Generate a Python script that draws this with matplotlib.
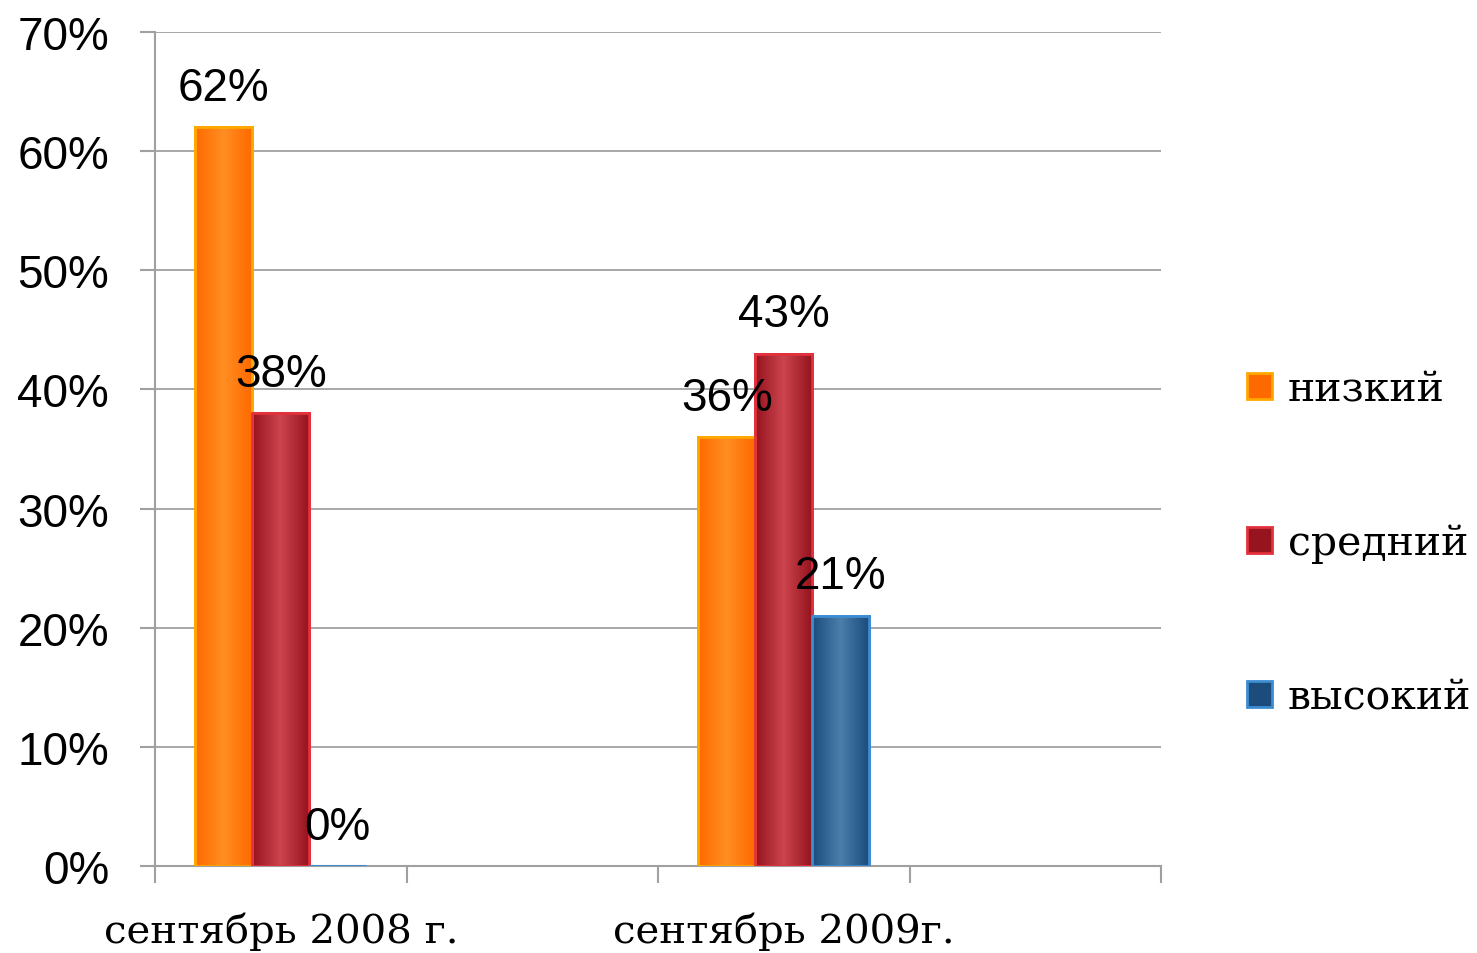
import matplotlib.pyplot as plt
import numpy as np
from matplotlib.colors import LinearSegmentedColormap

categories = ['сентябрь 2008 г.', '', 'сентябрь 2009г.', '']
series = ['низкий', 'средний', 'высокий']
low = [62, np.nan, 36, np.nan]
mid = [38, np.nan, 43, np.nan]
high = [0, np.nan, 21, np.nan]
values = [low, mid, high]

edge_cols = ['#FFA800', '#E2303C', '#3C8CD2']
dark_cols = ['#FF6A00', '#96141E', '#1B4C7C']
light_cols = ['#FF8E22', '#CC444E', '#4C7EAC']

fig = plt.figure(figsize=(14.77, 9.54), dpi=100)
ax = fig.add_axes([155/1477, 1-867/954, (1161-155)/1477, (867-33)/954])

x = np.arange(len(categories))
w = 0.226
sans = 'Liberation Sans'
serif = 'DejaVu Serif'

for i, (name, vals) in enumerate(zip(series, values)):
    bars = ax.bar(x + (i-1)*w, vals, w, color=dark_cols[i], edgecolor=edge_cols[i],
                  linewidth=2, label=name, zorder=3)
    cmap = LinearSegmentedColormap.from_list('g', [dark_cols[i], light_cols[i], dark_cols[i]])
    grad = np.linspace(0, 1, 64).reshape(1, -1)
    for b, v in zip(bars, vals):
        if np.isnan(v):
            continue
        x0, y0 = b.get_x(), b.get_y()
        im = ax.imshow(grad, cmap=cmap, aspect='auto', zorder=3.5,
                       extent=[x0, x0 + b.get_width(), y0, y0 + b.get_height()])
        im.set_clip_path(b)
        ax.bar(b.get_x() + b.get_width()/2, v, w, fill=False, edgecolor=edge_cols[i],
               linewidth=2, zorder=4)
        ax.text(b.get_x() + b.get_width()/2, v + 3.3, '%d%%' % v, ha='center', va='center',
                fontsize=33, family=sans, zorder=5)

ax.set_xlim(-0.5, 3.5)
ax.set_ylim(0, 70)
ax.set_yticks(range(0, 71, 10))
ax.set_yticklabels(['%d%%' % t for t in range(0, 71, 10)], fontsize=33, family=sans)
ax.set_xticks(np.arange(-0.5, 4, 1))
ax.set_xticklabels([])
ax.set_xticks(x, minor=True)
ax.set_xticklabels(categories, minor=True, fontsize=29, family=serif)
ax.tick_params(axis='x', which='minor', length=0, pad=33)
ax.tick_params(axis='x', which='major', length=12, color='#A0A0A0', width=1.5)
ax.tick_params(axis='y', length=11, color='#A0A0A0', width=1.5, pad=22)
ax.yaxis.grid(True, color='#A0A0A0', linewidth=1.3, zorder=0)
ax.set_axisbelow(True)
for s in ['top', 'right']:
    ax.spines[s].set_visible(False)
for s in ['left', 'bottom']:
    ax.spines[s].set_color('#A0A0A0')
    ax.spines[s].set_linewidth(1.5)

ax.legend(loc='center left', bbox_to_anchor=(1.0855, 0.387), frameon=False,
          prop={'family': serif, 'size': 29.5}, handlelength=0.6, handleheight=0.6,
          handletextpad=0.4, labelspacing=2.78, borderaxespad=0, borderpad=0)

fig.savefig('out.png', dpi=100)
